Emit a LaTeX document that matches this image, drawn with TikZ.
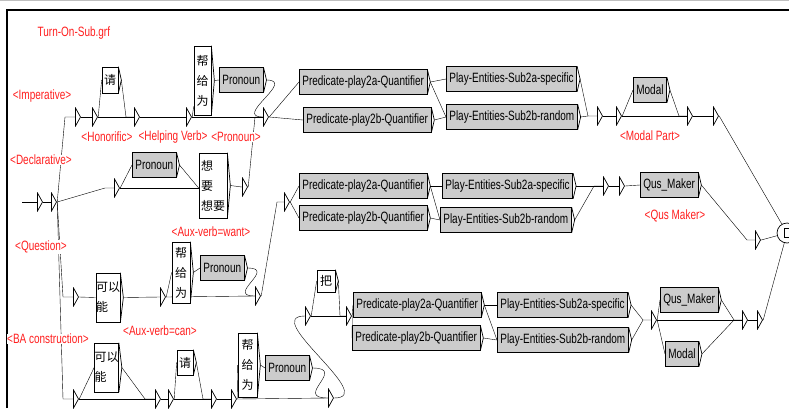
\documentclass[tikz,border=0pt]{standalone}
\usepackage{fontspec}
\setmainfont{Liberation Sans}[FakeStretch=0.74]
\newfontfamily\cjkfont{Noto Sans CJK SC}
\usetikzlibrary{calc,backgrounds}
\definecolor{labred}{RGB}{255,30,30}
\definecolor{boxgray}{RGB}{204,204,204}
\tikzset{
  ln/.style={line width=0.7pt},
  lbl/.style={text=labred, fill=white, inner sep=0.5pt, font=\fontsize{13.5}{14}\selectfont},
  gbox/.style={draw, ln, fill=boxgray, anchor=west, minimum height=25pt, inner xsep=3pt, inner ysep=0pt, font=\fontsize{13.5}{14}\selectfont},
  cbox/.style={draw, ln, fill=white, inner sep=0pt, font=\cjkfont\fontsize{12}{20}\selectfont},
  tri/.style={minimum width=6pt, minimum height=19pt, inner sep=0pt, fill=white,
    path picture={\draw[ln] ([shift={(0.5pt,-0.5pt)}]path picture bounding box.north west) -- ([xshift=-0.5pt]path picture bounding box.east) -- ([shift={(0.5pt,0.5pt)}]path picture bounding box.south west) -- cycle;}},
}
\begin{document}
\begin{tikzpicture}[x=1pt,y=-1pt]
\useasboundingbox (0,0) rectangle (789,408);
\draw[gray!50, line width=1.2pt] (0,0.6) -- (789,0.6);
\draw[line width=2pt] (7,408) -- (7,10) -- (789,10);

% empty transitions (triangles)
\foreach \n/\x/\y in {ti1/40/202, ti2/54/202, tr1/78/117, tr2/95/117, tr3/137/117, tr4/189/117, tr5/266/117,
  td1/117/188, td2/245/187, tq1/76/297, tq2/163/297, tq3/258/296, tq4/287/202,
  tm1/600/116, tm2/619/116, tm3/690/116, tm4/716/116, tqm1/606/186, tqm2/622/186, tqm3/758/240,
  tb1/76/399, tb2/158/399, tb3/171/399, tb4/214/399, tb5/234/399, tb6/331/398,
  tba1/308/316, tba2/349/316, tbm1/654/320, tbm2/745/320, tbm3/760/320}
  \node[tri] (\n) at (\x,\y) {};

% row 1
\node[cbox, minimum width=16pt, minimum height=26pt] (qing1) at (110,80) {请};
\node[cbox, minimum width=17pt, minimum height=69pt, align=center] (bang1) at (202.5,80.5) {帮\\给\\为};
\node[gbox] (pron1) at (219,80) {Pronoun};
\node[gbox] (p2a1) at (299,82) {Predicate-play2a-Quantifier};
\node[gbox] (p2b1) at (303,120) {Predicate-play2b-Quantifier};
\node[gbox] (s2a1) at (446,79) {Play-Entities-Sub2a-specific};
\node[gbox] (s2b1) at (446,117) {Play-Entities-Sub2b-random};
\node[gbox] (modal1) at (633,90) {Modal};
% row 2
\node[gbox] (prond) at (132,165) {Pronoun};
\node[cbox, minimum width=28pt, minimum height=65pt, align=left] (xy) at (213,185.5) {想\\要\\想要};
% row 3
\node[cbox, minimum width=24pt, minimum height=49pt, align=left] (ke1) at (108,297.5) {可以\\能};
\node[cbox, minimum width=18pt, minimum height=61pt, align=center] (bang2) at (181,272.5) {帮\\给\\为};
\node[gbox] (pron2) at (200,268) {Pronoun};
\node[gbox] (p2a2) at (299,186) {Predicate-play2a-Quantifier};
\node[gbox] (p2b2) at (299,218) {Predicate-play2b-Quantifier};
\node[gbox] (s2a2) at (442,186) {Play-Entities-Sub2a-specific};
\node[gbox] (s2b2) at (440,220) {Play-Entities-Sub2b-random};
\node[gbox] (qus1) at (640,185) {Qus\_Maker};
% row 4
\node[cbox, minimum width=23pt, minimum height=49pt, align=left] (ke2) at (106.5,367.5) {可以\\能};
\node[cbox, minimum width=16pt, minimum height=25pt] (qing2) at (185,362.5) {请};
\node[cbox, minimum width=19pt, minimum height=64pt, align=center] (bang3) at (247.5,365) {帮\\给\\为};
\node[gbox] (pron3) at (265,368) {Pronoun};
\node[cbox, minimum width=18pt, minimum height=22pt] (ba) at (326,281) {把};
\node[gbox] (p2a3) at (353,305) {Predicate-play2a-Quantifier};
\node[gbox] (p2b3) at (352,338) {Predicate-play2b-Quantifier};
\node[gbox] (s2a3) at (497,305) {Play-Entities-Sub2a-specific};
\node[gbox] (s2b3) at (497,340) {Play-Entities-Sub2b-random};
\node[gbox] (qus2) at (660,300) {Qus\_Maker};
\node[gbox] (modal2) at (665,354) {Modal};

% final state
\node[draw, ln, circle, minimum size=20pt, inner sep=0pt, fill=white] (fin) at (787,233) {};
\draw[ln] ([shift={(-3,-4.5)}]fin.center) rectangle ([shift={(3,4.5)}]fin.center);

% output chevrons of boxes
\foreach \n in {qing1,bang1,pron1,p2a1,p2b1,s2a1,s2b1,modal1,prond,xy,ke1,bang2,pron2,p2a2,p2b2,s2a2,s2b2,qus1,ke2,qing2,bang3,pron3,ba,p2a3,p2b3,s2a3,s2b3,qus2,modal2}{
  \draw[ln] (\n.north east) -- ([xshift=3pt]\n.east) -- (\n.south east);
  \coordinate (\n-o) at ([xshift=3pt]\n.east);
}

% helper points
\coordinate (s0) at (22,202);
\coordinate (c1) at (65,117);
\coordinate (c2) at (63,297);
\coordinate (c3) at (63,399);
\coordinate (c4) at (105,188);
\coordinate (c5) at (126,117);
\coordinate (c6) at (255,117);
\coordinate (c7) at (588,116);
\coordinate (c8) at (679,116);
\coordinate (c9) at (277,202);
\coordinate (c10) at (594,186);
\coordinate (c11) at (747,240);
\coordinate (c12) at (145,399);
\coordinate (c13) at (203,399);
\coordinate (c14) at (340,316);
\coordinate (c15) at (643,320);
\coordinate (c16) at (734,320);

\begin{scope}[on background layer, ln]
% start and trunks
\draw (s0) -- (ti1.west);
\draw (ti1.east) -- (ti2.west);
\draw (ti2.east) -- (c1) -- (tr1.west);
\draw (ti2.east) -- (c4) -- (td1.west);
\draw (ti2.east) -- (c2) -- (tq1.west);
\draw (ti2.east) -- (c3) -- (tb1.west);
% row 1
\draw (tr1.east) -- (tr2.west);
\draw (tr2.east) -- (qing1.west);
\draw (tr2.east) -- (tr3.west);
\draw (qing1-o) -- (c5) -- (tr3.west);
\draw (tr3.east) -- (tr4.west);
\draw (tr4.east) -- ([yshift=-26pt]bang1.west);
\draw (tr4.east) -- (tr5.west);
\draw (bang1-o) -- (pron1.west);
\draw (pron1-o) .. controls +(30,0) and +(-30,0) .. (tr5.west);
\draw (tr5.east) -- (p2a1.west);
\draw (tr5.east) -- (p2b1.west);
\draw (p2a1-o) -- (s2a1.west);
\draw (p2a1-o) -- (s2b1.west);
\draw (p2b1-o) -- (s2b1.west);
\draw (s2a1-o) -- (c7) -- (tm1.west);
\draw (s2b1-o) -- (c7);
\draw (tm1.east) -- (tm2.west);
\draw (tm2.east) -- (modal1.west);
\draw (tm2.east) -- (tm3.west);
\draw (modal1-o) -- (c8) -- (tm3.west);
\draw (tm3.east) -- (tm4.west);
\draw (tm4.east) -- (fin);
% row 2 (declarative)
\draw (td1.east) -- (prond.west);
\draw (td1.east) -- ([yshift=-2.5pt]xy.west);
\draw (prond-o) -- ([yshift=-2.5pt]xy.west);
\draw (xy-o) -- (td2.west);
\draw (td2.east) -- (c6) -- (tr5.west);
% row 3 (question)
\draw (tq1.east) -- (ke1.west);
\draw (ke1-o) -- (tq2.west);
\draw (tq2.east) -- (bang2.west);
\draw (tq2.east) -- (tq3.west);
\draw (bang2-o) -- (pron2.west);
\draw (pron2-o) .. controls +(30,0) and +(-30,0) .. (tq3.west);
\draw (tq3.east) -- (c9) -- (tq4.west);
\draw (tq4.east) -- (p2a2.west);
\draw (tq4.east) -- (p2b2.west);
\draw (p2a2-o) -- (s2a2.west);
\draw (p2a2-o) -- (s2b2.west);
\draw (p2b2-o) -- (s2b2.west);
\draw (s2a2-o) -- (tqm1.west);
\draw (s2b2-o) -- (c10) -- (tqm1.west);
\draw (tqm1.east) -- (tqm2.west);
\draw (tqm2.east) -- (qus1.west);
\draw (qus1-o) -- (c11) -- (tqm3.west);
\draw (tqm3.east) -- (fin);
% row 4 (BA construction)
\draw (tb1.east) -- (ke2.west);
\draw (tb1.east) -- (tb2.west);
\draw (ke2-o) -- (c12) -- (tb2.west);
\draw (tb2.east) -- (tb3.west);
\draw (tb3.east) -- (qing2.west);
\draw (tb3.east) -- (tb4.west);
\draw (qing2-o) -- (c13) -- (tb4.west);
\draw (tb4.east) -- (tb5.west);
\draw (tb5.east) -- (bang3.west);
\draw (tb5.east) -- (tb6.west);
\draw (bang3-o) -- (pron3.west);
\draw (pron3-o) .. controls +(35,0) and +(-35,0) .. (tb6.west);
\draw (tb6.east) .. controls +(45,0) and +(-45,0) .. (tba1.west);
\draw (tba1.east) -- (ba.west);
\draw (tba1.east) -- (tba2.west);
\draw (ba-o) -- (c14) -- (tba2.west);
\draw (tba2.east) -- (p2a3.west);
\draw (tba2.east) -- (p2b3.west);
\draw (p2a3-o) -- (s2a3.west);
\draw (p2a3-o) -- (s2b3.west);
\draw (p2b3-o) -- (s2b3.west);
\draw (s2a3-o) -- (c15) -- (tbm1.west);
\draw (s2b3-o) -- (c15);
\draw (tbm1.east) -- (qus2.west);
\draw (tbm1.east) -- (modal2.west);
\draw (tbm1.east) -- (tbm2.west);
\draw (qus2-o) -- (c16) -- (tbm2.west);
\draw (modal2-o) -- (c16);
\draw (tbm2.east) -- (tbm3.west);
\draw (tbm3.east) -- (fin);
\end{scope}

% labels
\node[lbl, anchor=west, fill=none] (title) at (37,33) {Turn-On-Sub.grf};
\node[lbl] (l-imp) at (42,96) {<Imperative>};
\node[lbl] (l-hon) at (107,137) {<Honorific>};
\node[lbl] (l-help) at (173,137) {<Helping Verb>};
\node[lbl] (l-pron) at (236,137) {<Pronoun>};
\node[lbl] (l-decl) at (41,160) {<Declarative>};
\node[lbl] (l-q) at (41,247) {<Question>};
\node[lbl] (l-want) at (211,232) {<Aux-verb=want>};
\node[lbl] (l-can) at (160,331) {<Aux-verb=can>};
\node[lbl] (l-ba) at (48,339) {<BA construction>};
\node[lbl] (l-modal) at (650,136) {<Modal Part>};
\node[lbl] (l-qus) at (675,216) {<Qus Maker>};
\end{tikzpicture}
\end{document}
